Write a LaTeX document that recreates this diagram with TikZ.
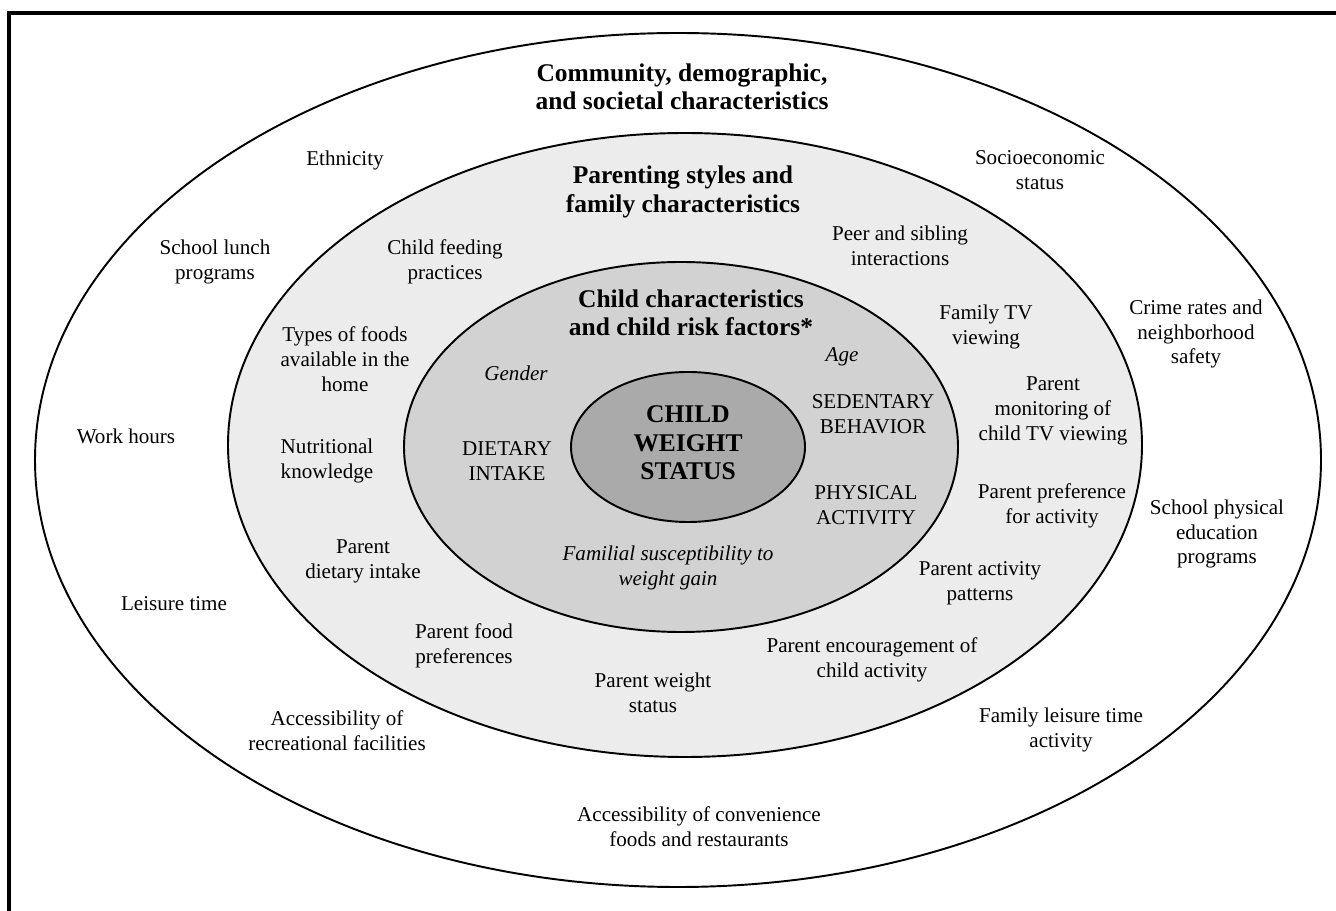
\documentclass[tikz,border=0pt]{standalone}
\usepackage{fontspec}
\setmainfont{Liberation Serif}
\definecolor{ringfam}{HTML}{ECECEC}
\definecolor{ringchild}{HTML}{D2D2D2}
\definecolor{ringcore}{HTML}{AAAAAA}
\tikzset{
    factor/.style={align=center, font=\fontsize{12}{14.2}\selectfont},
    risk/.style={align=center, font=\fontsize{12}{14.2}\selectfont\itshape},
    layer/.style={align=center, font=\fontsize{14.5}{16.2}\selectfont\bfseries},
    ring/.style={draw=black, line width=1.1pt}
}
\begin{document}
\begin{tikzpicture}[x=0.02cm, y=-0.02cm]
    \useasboundingbox (0,0) rectangle (1336,911);
    % frame
    \draw[line width=2.4pt] (9,911) -- (9,13) -- (1336,13);
    % rings
    \draw[ring, fill=white] (678,460) ellipse [x radius=643, y radius=427];
    \draw[ring, fill=ringfam] (685,445) ellipse [x radius=457, y radius=312];
    \draw[ring, fill=ringchild] (681,447) ellipse [x radius=277, y radius=185];
    \draw[ring, fill=ringcore] (688,447) ellipse [x radius=117, y radius=75];

    % outer ring: community
    \node[layer] (community) at (682,87) {Community, demographic,\\and societal characteristics};
    \node[factor] (ethnicity) at (345,160) {Ethnicity};
    \node[factor] (ses) at (1040,170) {Socioeconomic\\status};
    \node[factor] (lunch) at (215,262) {School lunch\\programs};
    \node[factor] (crime) at (1196,334) {Crime rates and\\neighborhood\\safety};
    \node[factor] (work) at (126,436) {Work hours};
    \node[factor] (schoolpe) at (1217,534) {School physical\\education\\programs};
    \node[factor] (leisure) at (174,604) {Leisure time};
    \node[factor] (recfac) at (337,731) {Accessibility of\\recreational facilities};
    \node[factor] (famleisure) at (1061,730) {Family leisure time\\activity};
    \node[factor] (convfood) at (699,827) {Accessibility of convenience\\foods and restaurants};

    % middle ring: family
    \node[layer] (family) at (683,192) {Parenting styles and\\family characteristics};
    \node[factor] (feeding) at (445,262) {Child feeding\\practices};
    \node[factor] (peer) at (900,246) {Peer and sibling\\interactions};
    \node[factor] (foodtypes) at (345,359) {Types of foods\\available in the\\home};
    \node[factor] (famtv) at (986,327) {Family TV\\viewing};
    \node[factor] (monitor) at (1053,411) {Parent\\monitoring of\\child TV viewing};
    \node[factor] (knowledge) at (327,461) {Nutritional\\knowledge};
    \node[factor] (prefact) at (1052,506) {Parent preference\\for activity};
    \node[factor] (pintake) at (363,561) {Parent\\dietary intake};
    \node[factor] (pactpat) at (980,583) {Parent activity\\patterns};
    \node[factor] (pfood) at (464,646) {Parent food\\preferences};
    \node[factor] (encourage) at (872,660) {Parent encouragement of\\child activity};
    \node[factor] (pweight) at (653,693) {Parent weight\\status};

    % inner ring: child
    \node[layer] (child) at (691,313) {Child characteristics\\and child risk factors*};
    \node[risk] (gender) at (516,373) {Gender};
    \node[risk] (age) at (842,357) {Age};
    \node[factor] (sedentary) at (873,414) {SEDENTARY\\BEHAVIOR};
    \node[factor] (dietary) at (507,461) {DIETARY\\INTAKE};
    \node[factor] (physical) at (866,505) {PHYSICAL\\ACTIVITY};
    \node[risk] (familial) at (668,568) {Familial susceptibility to\\weight gain};

    % core
    \node[layer] (weight) at (688,443) {CHILD\\WEIGHT\\STATUS};
\end{tikzpicture}
\end{document}
